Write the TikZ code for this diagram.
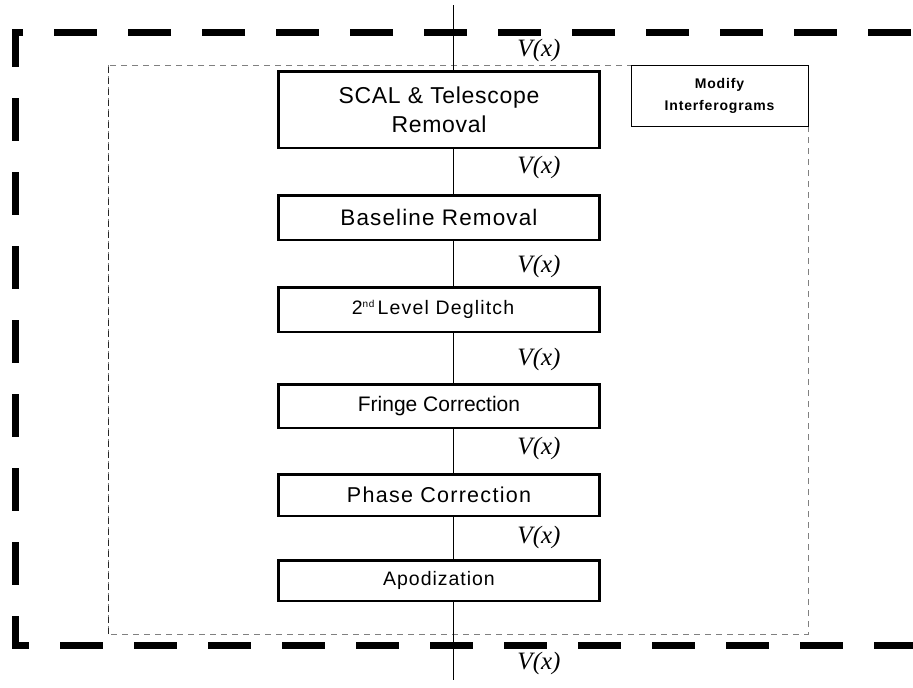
\documentclass[tikz,border=0pt]{standalone}
\usepackage{fontspec}
\setmainfont{Liberation Sans}
\newfontfamily\vfont{Liberation Serif}
\begin{document}
\begin{tikzpicture}[x=1pt,y=-1pt,
  proc/.style={draw, line width=2.5pt, minimum width=321pt, inner sep=0pt, align=center},
  vlab/.style={font=\vfont\itshape\fontsize{25}{25}\selectfont, inner sep=0pt},
  flow/.style={line width=0.8pt},
  outerbox/.style={line width=7pt, dash pattern=on 43pt off 31pt, dash phase=45pt, line join=miter},
  innerbox/.style={draw=gray, line width=1pt, dash pattern=on 6pt off 5pt}]
\useasboundingbox (0,0) rectangle (913,688);
\draw[outerbox] (940,32) -- (15,32) -- (15,645) -- (940,645);
\draw[innerbox] (108,65) rectangle (808,634);
\draw[innerbox, draw=black!85] (108,634) -- (108,65);
\node[draw, line width=0.8pt, minimum width=177pt, minimum height=61pt, inner sep=0pt, align=center,
  font=\bfseries\fontsize{14}{22}\selectfont\addfontfeatures{LetterSpace=6}] (mod) at (719.5,95.5) {Modify\\Interferograms};
\node[proc, minimum height=76.5pt, font=\fontsize{23}{29}\selectfont\addfontfeatures{LetterSpace=3}] (b1) at (439,109.5) {SCAL \& Telescope\\Removal};
\node[proc, minimum height=44.5pt, font=\fontsize{22.5}{26}\selectfont\addfontfeatures{LetterSpace=5}] (b2) at (439,217.5) {Baseline Removal};
\node[proc, minimum height=44.5pt, font=\fontsize{19.5}{23}\selectfont\addfontfeatures{LetterSpace=6}] (b3) at (439,309.5) {2\raisebox{0.7ex}{\fontsize{10}{10}\selectfont nd}\,Level Deglitch\hspace*{12pt}};
\node[proc, minimum height=43.5pt, font=\fontsize{21}{25}\selectfont] (b4) at (439,406) {Fringe Correction};
\node[proc, minimum height=41.5pt, font=\fontsize{21.5}{25}\selectfont\addfontfeatures{LetterSpace=6}] (b5) at (439,495) {Phase Correction};
\node[proc, minimum height=40.5pt, font=\fontsize{19.5}{23}\selectfont\addfontfeatures{LetterSpace=5}] (b6) at (439,580.5) {Apodization};
\coordinate (ltop) at (453,5);
\coordinate (lbot) at (453,680);
\draw[flow] (ltop) -- (ltop |- b1.north);
\draw[flow] (b1.south -| ltop) -- (b2.north -| ltop);
\draw[flow] (b2.south -| ltop) -- (b3.north -| ltop);
\draw[flow] (b3.south -| ltop) -- (b4.north -| ltop);
\draw[flow] (b4.south -| ltop) -- (b5.north -| ltop);
\draw[flow] (b5.south -| ltop) -- (b6.north -| ltop);
\draw[flow] (b6.south -| ltop) -- (lbot);
\node[vlab] (v0) at (539,50) {V(x)};
\node[vlab] (v1) at (539,167.5) {V(x)};
\node[vlab] (v2) at (539,266.5) {V(x)};
\node[vlab] (v3) at (539,359) {V(x)};
\node[vlab] (v4) at (539,448) {V(x)};
\node[vlab] (v5) at (539,537) {V(x)};
\node[vlab] (v6) at (539,663) {V(x)};
\end{tikzpicture}
\end{document}
